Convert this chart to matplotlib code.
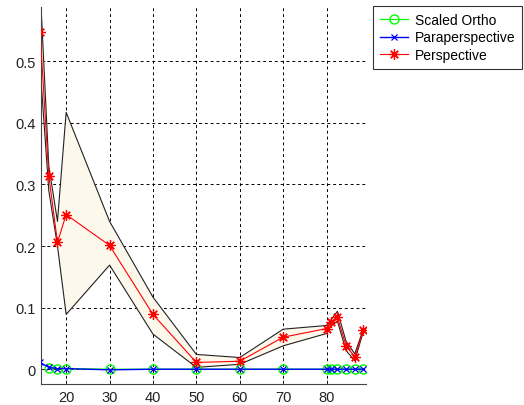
import numpy as np
import matplotlib
matplotlib.use("Agg")
import matplotlib.pyplot as plt

plt.rcParams['font.family'] = ['Liberation Sans', 'DejaVu Sans']

# Sample positions (shared by all three camera models)
x = [14, 16, 18, 20, 30, 40, 50, 60, 70, 80, 81, 82.5, 84.5, 86.5, 88.5]

# Mean error per model
scaled_ortho = [np.nan, 0.002, 0.001, 0.001, 0.0, 0.0, 0.0, 0.0, 0.0,
                0.0, 0.0, 0.0, 0.0, 0.0, 0.0]
paraperspective = [0.011, 0.003, 0.001, 0.001, -0.001, 0.0, 0.0, 0.0, 0.0,
                   0.0, 0.0, 0.0, 0.0, 0.0, 0.0]
perspective = [0.547, 0.314, 0.206, 0.251, 0.201, 0.089, 0.011, 0.013, 0.052,
               0.066, 0.076, 0.084, 0.038, 0.020, 0.063]

# Spread band around the perspective curve
persp_upper = [0.62, 0.33, 0.24, 0.417, 0.240, 0.117, 0.024, 0.019, 0.065,
               0.071, 0.080, 0.094, 0.045, 0.025, 0.066]
persp_lower = [0.49, 0.29, 0.20, 0.089, 0.169, 0.057, 0.003, 0.008, 0.038,
               0.058, 0.070, 0.078, 0.030, 0.014, 0.062]

xticks = [20, 30, 40, 50, 60, 70, 80]
yticks = [0, 0.1, 0.2, 0.3, 0.4, 0.5]
ytick_labels = ['0', '0.1', '0.2', '0.3', '0.4', '0.5']

fig = plt.figure(figsize=(5.24, 4.06), dpi=100)
ax = fig.add_axes([0.0782, 0.0517, 0.6196, 0.9286])

ax.fill_between(x, persp_lower, persp_upper, color='#fdf8ec', lw=0, zorder=1)
ax.plot(x, persp_upper, color='#222222', lw=0.8, zorder=2)
ax.plot(x, persp_lower, color='#222222', lw=0.8, zorder=2)

# asterisk marker: 8 spokes, like a plus laid over a cross
asterisk = (8, 2, 0)

ax.plot(x, scaled_ortho, color='#00ff00', lw=0.9, marker='o', ms=6.5,
        mfc='none', mec='#00ff00', mew=1.0, label='Scaled Ortho', zorder=3)
ax.plot(x, paraperspective, color='#0000ff', lw=1.0, marker='x', ms=4.5,
        mew=0.9, label='Paraperspective', zorder=4)
ax.plot(x, perspective, color='#ff0000', lw=0.8, marker=asterisk, ms=7.5,
        mew=0.9, label='Perspective', zorder=5)

ax.set_xlim(14.2, 89)
ax.set_ylim(-0.024, 0.588)
ax.set_xticks(xticks)
ax.set_yticks(yticks)
ax.set_yticklabels(ytick_labels)

ax.grid(True, color='black', linestyle=(0, (3, 3)), linewidth=0.7)
ax.set_axisbelow(True)
for side in ('top', 'right'):
    ax.spines[side].set_visible(False)
for side in ('left', 'bottom'):
    ax.spines[side].set_color('#444444')
    ax.spines[side].set_linewidth(0.8)
ax.tick_params(direction='in', length=3, width=0.6, labelsize=10.5,
               colors='#222222', pad=4)
ax.set_facecolor('white')

leg = fig.legend(loc='upper left', bbox_to_anchor=(373 / 524, 1 - 7 / 406),
                 frameon=True, fancybox=False, fontsize=10,
                 handlelength=2.0, handletextpad=0.5, borderpad=0.5,
                 labelspacing=0.25, borderaxespad=0)
leg.get_frame().set_edgecolor('black')
leg.get_frame().set_linewidth(0.8)

fig.savefig('out.png', dpi=100)
